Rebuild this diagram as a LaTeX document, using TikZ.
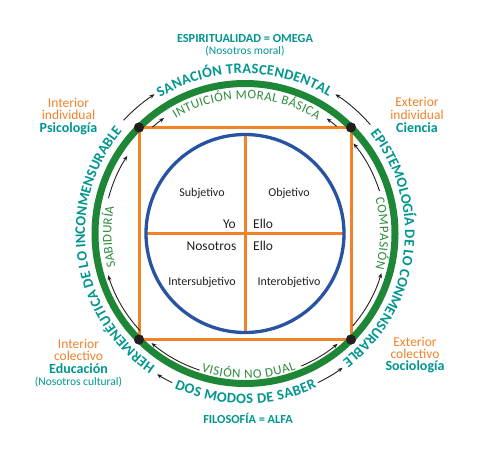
\documentclass[tikz,border=0pt]{standalone}
\usepackage{fontspec}
\setmainfont{Carlito}
\usetikzlibrary{decorations.text,arrows.meta,calc}
\definecolor{tealc}{RGB}{0,150,143}
\definecolor{orng}{RGB}{240,130,40}
\definecolor{grn}{RGB}{30,135,55}
\definecolor{igrn}{RGB}{45,140,60}
\definecolor{blu}{RGB}{40,82,162}
\definecolor{ink}{RGB}{35,31,32}
\begin{document}
\begin{tikzpicture}[x=1pt,y=1pt,
  outerring/.style={decorate,decoration={text along path,
     text={|\fontsize{14.5}{14.5}\selectfont\bfseries|#1},
     text color=tealc, text align={fit to path}}},
  innerring/.style={decorate,decoration={text along path,
     text={|\fontsize{13}{13}\selectfont|#1},
     text color=igrn, text align={fit to path}}},
  arr/.style={ink, line width=0.9pt, -{Stealth[length=5pt,width=4pt]}},
  dotnode/.style={circle, fill=ink, inner sep=0pt, minimum size=10pt},
  quad/.style={ink, inner sep=0pt, font=\fontsize{12}{12}\selectfont},
  pron/.style={ink, inner sep=0pt, font=\fontsize{13.5}{13.5}\selectfont},
  lblo/.style={orng, inner sep=0pt, anchor=base, font=\fontsize{13.5}{13.5}\selectfont},
  lblt/.style={tealc, inner sep=0pt, anchor=base, font=\fontsize{14}{14}\selectfont\bfseries},
  lbls/.style={tealc, inner sep=0pt, anchor=base, font=\fontsize{11.5}{11.5}\selectfont},
  ttl/.style={tealc, inner sep=0pt, anchor=base, font=\fontsize{12.3}{12.3}\selectfont\bfseries}
]
\useasboundingbox (0,0) rectangle (492,461);
\coordinate (C) at (245,227.5);

% corner dots (nodes)
\node[dotnode] (TL) at ($(C)+(-106,106)$) {};
\node[dotnode] (TR) at ($(C)+(106,106)$) {};
\node[dotnode] (BR) at ($(C)+(106,-106)$) {};
\node[dotnode] (BL) at ($(C)+(-106,-106)$) {};

% orange square
\draw[orng, line width=3pt] (TL.center) -- (TR.center) -- (BR.center) -- (BL.center) -- cycle;
% cross
\coordinate (cT) at ($(C)+(0,99)$);
\coordinate (cB) at ($(C)+(0,-99)$);
\coordinate (cL) at ($(C)+(-99,0)$);
\coordinate (cR) at ($(C)+(99,0)$);
\draw[orng, line width=3pt] (cT) -- (cB);
\draw[orng, line width=3pt] (cL) -- (cR);
% blue circle
\draw[blu, line width=3.3pt] (C) circle[radius=99];
% green ring
\draw[grn, line width=7pt] (C) circle[radius=150];
% dots on top
\foreach \d in {TL,TR,BR,BL} \fill[ink] (\d) circle[radius=5];

% outer ring texts
\path[outerring={SANACIÓN TRASCENDENTAL}] ([shift={(C)}]122:160) arc[start angle=122, end angle=58.5, radius=160];
\path[outerring={EPISTEMOLOGÍA DE LO CONMENSURABLE}] ([shift={(C)}]38.5:160) arc[start angle=38.5, end angle=-52.5, radius=160];
\path[outerring={HERMENÉUTICA DE LO INCONMENSURABLE}] ([shift={(C)}]236:160) arc[start angle=236, end angle=140, radius=160];
\path[outerring={DOS MODOS DE SABER}] ([shift={(C)}]245.5:170) arc[start angle=245.5, end angle=295, radius=170];

% inner ring texts
\path[innerring={INTUICIÓN MORAL BÁSICA}] ([shift={(C)}]121:134.5) arc[start angle=121, end angle=57.5, radius=134.5];
\path[innerring={COMPASIÓN}] ([shift={(C)}]15:135) arc[start angle=15, end angle=-15, radius=135];
\path[innerring={SABIDURÍA}] ([shift={(C)}]194.5:133.5) arc[start angle=194.5, end angle=168.5, radius=133.5];
\path[innerring={VISIÓN NO DUAL}] ([shift={(C)}]252.4:145) arc[start angle=252.4, end angle=290.6, radius=145];

% outer arrows
\draw[arr] ([shift={(C)}]137:166) arc[start angle=137, end angle=123, radius=166];
\draw[arr] ([shift={(C)}]41:166) arc[start angle=41, end angle=57, radius=166];
\draw[arr] ([shift={(C)}]244:166) arc[start angle=244, end angle=238, radius=166];
\draw[arr] ([shift={(C)}]296:166) arc[start angle=296, end angle=306, radius=166];

% inner arrows
\draw[arr] ([shift={(C)}]131:141) arc[start angle=131, end angle=125, radius=141];
\draw[arr] ([shift={(C)}]49.5:141) arc[start angle=49.5, end angle=54.6, radius=141];
\draw[arr] ([shift={(C)}]165.5:141) arc[start angle=165.5, end angle=146.6, radius=141];
\draw[arr] ([shift={(C)}]222.7:143) arc[start angle=222.7, end angle=197, radius=143];
\draw[arr] ([shift={(C)}]17.5:141) arc[start angle=17.5, end angle=39.7, radius=141];
\draw[arr] ([shift={(C)}]-40.6:142) arc[start angle=-40.6, end angle=-16.2, radius=142];
\draw[arr] ([shift={(C)}]251.6:144) arc[start angle=251.6, end angle=229.5, radius=144];
\draw[arr] ([shift={(C)}]293:144) arc[start angle=293, end angle=310, radius=144];

% quadrant labels
\node[quad, anchor=base] (subj) at (202,265) {Subjetivo};
\node[quad, anchor=base] (obj) at (289,265) {Objetivo};
\node[quad, anchor=base] (isubj) at (202,175.3) {Intersubjetivo};
\node[quad, anchor=base] (iobj) at (289,175.3) {Interobjetivo};
\node[pron, anchor=base east] (yo) at (236,232.7) {Yo};
\node[pron, anchor=base west] (ello1) at (253,232.7) {Ello};
\node[pron, anchor=base east] (nos) at (236.5,211) {Nosotros};
\node[pron, anchor=base west] (ello2) at (253,211) {Ello};

% titles
\node[ttl] (espi) at (245,418.7) {ESPIRITUALIDAD = OMEGA};
\node[lbls] (nmoral) at (245,406.7) {(Nosotros moral)};
\node[ttl] (filo) at (248,37.7) {FILOSOFÍA = ALFA};

% corner labels
\node[lblo] (ii1) at (68.5,353.7) {Interior};
\node[lblo] (ii2) at (68.5,341) {individual};
\node[lblt] (ii3) at (68.5,328.7) {Psicología};

\node[lblo] (ei1) at (417,354.7) {Exterior};
\node[lblo] (ei2) at (417,341.7) {individual};
\node[lblt] (ei3) at (417,328.7) {Ciencia};

\node[lblo] (ic1) at (78.5,112.7) {Interior};
\node[lblo] (ic2) at (78.5,100.3) {colectivo};
\node[lblt] (ic3) at (78.5,87.7) {Educación};
\node[lbls] (ic4) at (78.5,76) {(Nosotros cultural)};

\node[lblo] (ec1) at (415,115) {Exterior};
\node[lblo] (ec2) at (415,102.7) {colectivo};
\node[lblt] (ec3) at (415,90.3) {Sociología};
\end{tikzpicture}
\end{document}
